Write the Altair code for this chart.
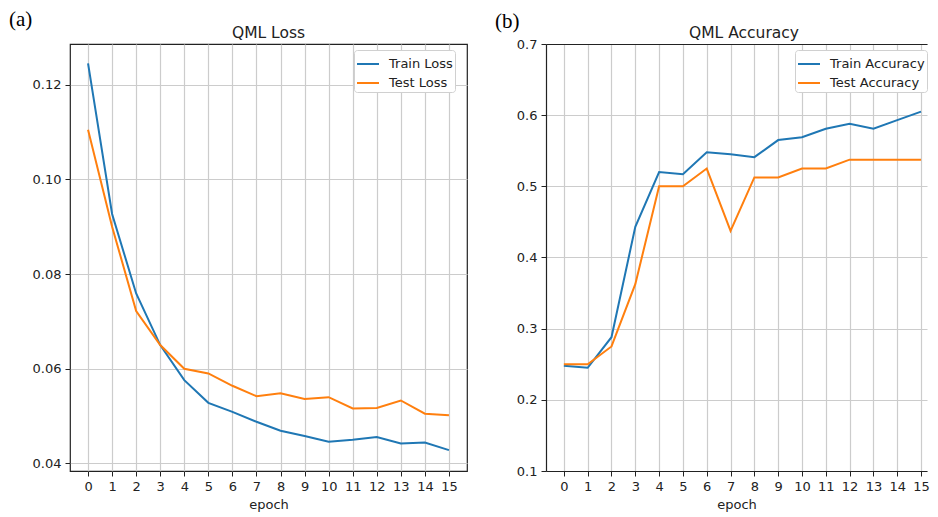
import altair as alt
import pandas as pd

epochs = list(range(16))
train_loss = [0.1245, 0.0927, 0.0759, 0.0650, 0.0576, 0.0528, 0.0509, 0.0488,
              0.0469, 0.0458, 0.0446, 0.0450, 0.0456, 0.0442, 0.0444, 0.0428]
test_loss = [0.1105, 0.0900, 0.0722, 0.0650, 0.0600, 0.0590, 0.0564, 0.0542,
             0.0548, 0.0536, 0.0540, 0.0516, 0.0517, 0.0533, 0.0505, 0.0502]
train_acc = [0.248, 0.245, 0.288, 0.443, 0.520, 0.517, 0.548, 0.545,
             0.541, 0.565, 0.569, 0.581, 0.588, 0.581, 0.593, 0.605]
test_acc = [0.250, 0.250, 0.275, 0.3625, 0.500, 0.500, 0.525, 0.4375,
            0.5125, 0.5125, 0.525, 0.525, 0.5375, 0.5375, 0.5375, 0.5375]
loss_series = ["Train Loss", "Test Loss"]
acc_series = ["Train Accuracy", "Test Accuracy"]
loss_ticks = [0.04, 0.06, 0.08, 0.10, 0.12]
acc_ticks = [0.1, 0.2, 0.3, 0.4, 0.5, 0.6, 0.7]
panel_labels = ["(a)", "(b)"]
titles = ["QML Loss", "QML Accuracy"]

BLUE, ORANGE = "#1f77b4", "#ff7f0e"
FONT = "DejaVu Sans"
INK = "#222222"
GRID = "#cccccc"
W_A, W_B, H = 397, 381, 427
EXT_A, EXT_B = 61, 52

loss_df = pd.DataFrame({
    "epoch": epochs * 2,
    "value": train_loss + test_loss,
    "series": [loss_series[0]] * 16 + [loss_series[1]] * 16,
})
acc_df = pd.DataFrame({
    "epoch": epochs * 2,
    "value": train_acc + test_acc,
    "series": [acc_series[0]] * 16 + [acc_series[1]] * 16,
})


def x_axis(domain=False):
    return alt.Axis(values=epochs, format="d", title="epoch", grid=True,
                    gridColor=GRID, gridWidth=1.2, tickSize=5, tickColor=INK,
                    labelPadding=4, labelFont=FONT, labelFontSize=13,
                    labelColor=INK, titleFont=FONT, titleFontSize=13,
                    titleFontWeight="normal", titleColor=INK, titlePadding=5,
                    domain=domain, domainColor=INK, domainWidth=1.2,
                    labelFlush=False)


def y_axis(ticks, fmt, extent, domain=False):
    return alt.Axis(values=ticks, format=fmt, title=None, grid=True,
                    gridColor=GRID, gridWidth=1.2, tickSize=5, tickColor=INK,
                    labelPadding=4, labelFont=FONT, labelFontSize=13,
                    labelColor=INK, minExtent=extent, maxExtent=extent,
                    domain=domain, domainColor=INK, domainWidth=1.2,
                    labelFlush=False)


def legend(lx, ly):
    return alt.Legend(orient="none", legendX=lx, legendY=ly, title=None,
                      fillColor="white", strokeColor="#d0d0d0",
                      cornerRadius=3, padding=2, symbolType="stroke",
                      symbolSize=484, symbolStrokeWidth=2,
                      labelFont=FONT, labelFontSize=13, labelColor=INK,
                      rowPadding=-3, labelOffset=9)


def texts(panel_label, title_text, lx, ly, tx):
    lab = alt.Chart(pd.DataFrame({"t": [panel_label]})).mark_text(
        font="Liberation Serif", fontSize=21, align="left", baseline="top",
        color="black").encode(text="t:N", x=alt.value(lx), y=alt.value(ly))
    ttl = alt.Chart(pd.DataFrame({"t": [title_text]})).mark_text(
        font=FONT, fontSize=15.5, align="center", baseline="alphabetic",
        color=INK).encode(text="t:N", x=alt.value(tx), y=alt.value(-6))
    return lab, ttl


# ---- panel (a) ----
loss_lines = alt.Chart(loss_df).mark_line(strokeWidth=2).encode(
    x=alt.X("epoch:Q", scale=alt.Scale(domain=[-0.75, 15.75], nice=False, zero=False),
            axis=x_axis()),
    y=alt.Y("value:Q", scale=alt.Scale(domain=[0.0384, 0.1286], nice=False, zero=False),
            axis=y_axis(loss_ticks, ".2f", EXT_A)),
    color=alt.Color("series:N",
                    scale=alt.Scale(domain=loss_series, range=[BLUE, ORANGE]),
                    legend=legend(284, 6)),
    detail="series:N",
)
lab_a, ttl_a = texts(panel_labels[0], titles[0], -61, -35, W_A / 2)

panel_a = alt.layer(loss_lines, lab_a, ttl_a).properties(
    width=W_A, height=H,
    view=alt.ViewConfig(stroke=INK, strokeWidth=1.2))

# ---- panel (b) ----
acc_x_scale = alt.Scale(domain=[-0.75, 15.25], nice=False, zero=False)
acc_y_scale = alt.Scale(domain=[0.1, 0.7], nice=False, zero=False)
acc_lines = alt.Chart(acc_df).mark_line(strokeWidth=2).encode(
    x=alt.X("epoch:Q", scale=acc_x_scale, axis=x_axis(domain=True)),
    y=alt.Y("value:Q", scale=acc_y_scale,
            axis=y_axis(acc_ticks, ".1f", EXT_B, domain=True)),
    color=alt.Color("series:N",
                    scale=alt.Scale(domain=acc_series, range=[BLUE, ORANGE]),
                    legend=legend(249, 6)),
    detail="series:N",
)
top_frame = alt.Chart(acc_df).mark_line(opacity=0).encode(
    x=alt.X("epoch:Q", scale=acc_x_scale,
            axis=alt.Axis(orient="top", labels=False, ticks=False, grid=False,
                          title=None, domain=True, domainColor=INK, domainWidth=1.2)),
    y=alt.Y("value:Q", scale=acc_y_scale),
    detail="series:N",
)
lab_b, ttl_b = texts(panel_labels[1], titles[1], -51, -33, 198)

panel_b = alt.layer(acc_lines, top_frame, lab_b, ttl_b).resolve_axis(x="independent").properties(
    width=W_B, height=H,
    view=alt.ViewConfig(strokeWidth=0, stroke="transparent"))

chart = alt.hconcat(panel_a, panel_b, spacing=26).resolve_scale(
    color="independent").resolve_legend(color="independent").properties(
    padding={"left": 0, "top": 0, "right": 0, "bottom": 0},
    background="white")

chart.save("out.html", embed_options={"renderer": "svg", "actions": False})
